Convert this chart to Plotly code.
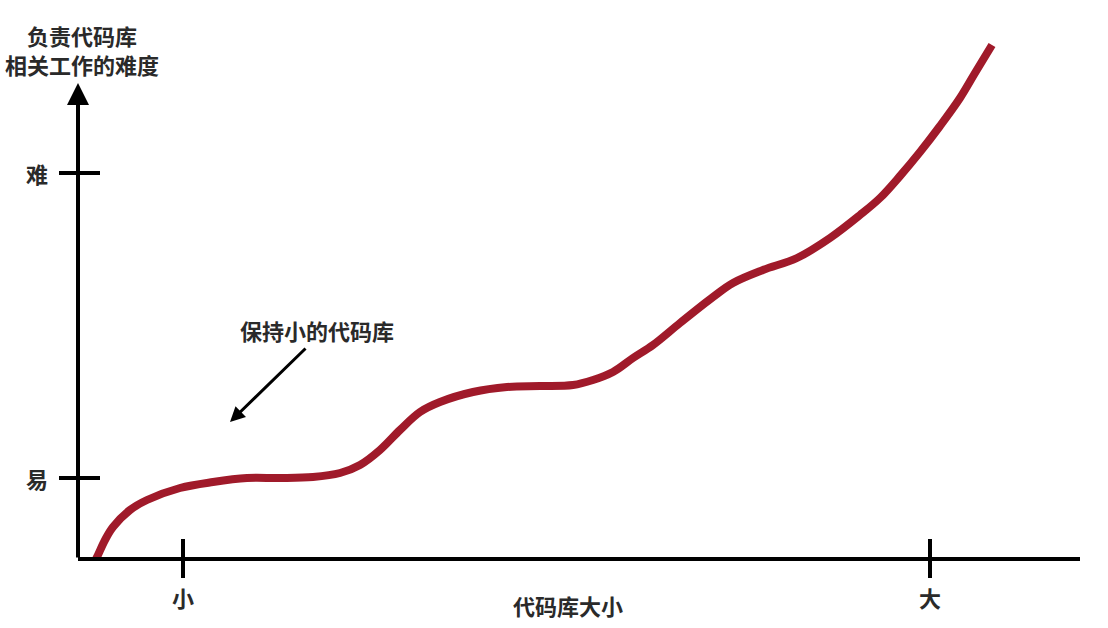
import plotly.graph_objects as go

# Curve (x: code base size, y: difficulty)
curve_x = [1.8, 2.0, 2.7, 3.5, 5.2, 6.9, 10.2, 13.5, 16.9, 20.2, 23.5, 26.2, 28.2, 30.2,
           32.2, 34.2, 36.2, 39.5, 42.9, 46.2, 49.5, 51.5, 53.5, 55.5, 57.5, 60.2, 63.5,
           65.5, 68.5, 71.9, 75.2, 78.2, 80.2, 82.2, 84.2, 86.2, 88.2, 89.7, 91.4]
curve_y = [0.0, 0.4, 1.9, 3.2, 4.9, 5.9, 7.1, 7.7, 8.1, 8.1, 8.2, 8.6, 9.4, 10.9,
           12.9, 14.7, 15.7, 16.7, 17.2, 17.3, 17.4, 17.9, 18.7, 20.1, 21.4, 23.6, 26.2,
           27.6, 28.9, 30.1, 32.1, 34.4, 36.1, 38.3, 40.7, 43.3, 46.1, 48.6, 51.4]

x_tick_vals = [10.5, 85.2]
x_tick_text = ["小", "大"]
y_tick_vals = [8.1, 38.6]
y_tick_text = ["易", "难"]

x_title = "代码库大小"
y_title = "负责代码库<br>相关工作的难度"
note_text = "保持小的代码库"
note_pos = (23.9, 22.9)
note_arrow_tip = (15.2, 13.7)
note_arrow_tail = (22.9, 21.2)
x_axis_end = 100.2
y_axis_top = 47.6

X_RANGE = [-7.8, 103.0]
Y_RANGE = [-6.9, 55.9]

FONT = "Noto Sans CJK SC"
TXT = dict(family=FONT, size=22, color="#2a2a2a", weight=700)
CURVE_COLOR = "#A01A2A"

fig = go.Figure()
fig.add_trace(go.Scatter(
    x=curve_x, y=curve_y, mode="lines",
    line=dict(color=CURVE_COLOR, width=8, shape="spline", smoothing=1.0),
    hoverinfo="skip", showlegend=False,
))

shapes = []
# x axis line
shapes.append(dict(type="line", xref="x", yref="y", x0=0, x1=x_axis_end, y0=0, y1=0,
                   line=dict(color="black", width=4), layer="above"))
# x ticks crossing the axis
for v in x_tick_vals:
    shapes.append(dict(type="line", xref="x", yref="y", x0=v, x1=v,
                       ysizemode="pixel", yanchor=0, y0=-19, y1=20,
                       line=dict(color="black", width=4)))
# y ticks crossing the axis
for v in y_tick_vals:
    shapes.append(dict(type="line", xref="x", yref="y", y0=v, y1=v,
                       xsizemode="pixel", xanchor=0, x0=-19, x1=22,
                       line=dict(color="black", width=4)))

annotations = []
# y axis with arrow head
annotations.append(dict(x=0, y=y_axis_top, ax=0, ay=0, xref="x", yref="y",
                        axref="x", ayref="y", showarrow=True, arrowhead=2,
                        arrowsize=1.1, arrowwidth=4, arrowcolor="black", text=""))
for v, t in zip(x_tick_vals, x_tick_text):
    annotations.append(dict(x=v, y=0, xref="x", yref="y", text=t, showarrow=False,
                            yshift=-38, font=TXT))
for v, t in zip(y_tick_vals, y_tick_text):
    annotations.append(dict(x=0, y=v, xref="x", yref="y", text=t, showarrow=False,
                            xshift=-41, font=TXT))
annotations.append(dict(x=49.0, y=0, xref="x", yref="y", text=x_title, showarrow=False,
                        yshift=-46, font=TXT))
annotations.append(dict(x=0, y=y_axis_top, xref="x", yref="y", text=y_title,
                        showarrow=False, xshift=4, yshift=34, font=TXT))
annotations.append(dict(x=note_pos[0], y=note_pos[1], xref="x", yref="y", text=note_text,
                        showarrow=False, font=TXT))
annotations.append(dict(x=note_arrow_tip[0], y=note_arrow_tip[1],
                        ax=note_arrow_tail[0], ay=note_arrow_tail[1],
                        xref="x", yref="y", axref="x", ayref="y", text="",
                        showarrow=True, arrowhead=2, arrowsize=1, arrowwidth=3,
                        arrowcolor="black"))

fig.update_layout(
    width=1108, height=628,
    margin=dict(l=0, r=0, t=0, b=0),
    paper_bgcolor="white", plot_bgcolor="white",
    xaxis=dict(range=X_RANGE, visible=False, fixedrange=True),
    yaxis=dict(range=Y_RANGE, visible=False, fixedrange=True),
    shapes=shapes, annotations=annotations,
    font=dict(family=FONT),
)

fig.write_html("out.html")
